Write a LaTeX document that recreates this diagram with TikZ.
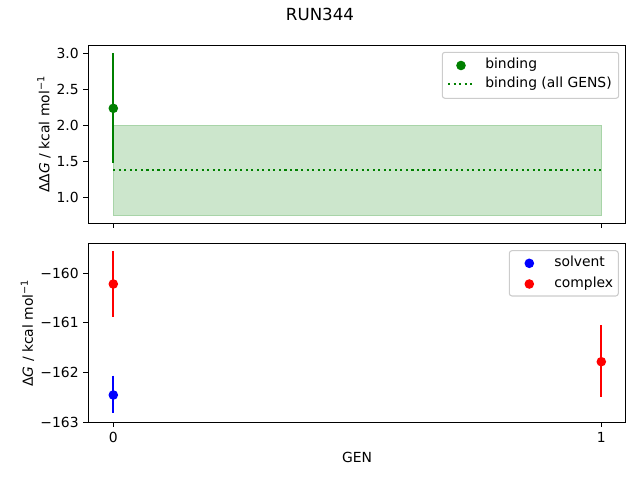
\documentclass[tikz,border=0pt]{standalone}
\usepackage{fontspec}
\setmainfont{DejaVu Sans}
\definecolor{mgreen}{HTML}{008000}
\definecolor{mfill}{HTML}{CCE6CC}
\definecolor{medge}{HTML}{A8D4A8}
\definecolor{mred}{HTML}{FF0000}
\definecolor{mblue}{HTML}{0000FF}
\definecolor{legedge}{HTML}{CCCCCC}
\tikzset{
  axbox/.style={draw=black, line width=0.833pt},
  tickline/.style={draw=black, line width=0.833pt},
  ticklab/.style={font=\fontsize{10.42pt}{12pt}\selectfont, inner sep=0pt, outer sep=0pt},
  errbar/.style={line width=1.5625pt},
  legbox/.style={draw=legedge, fill=white, fill opacity=0.8, line width=0.8pt, rounded corners=2pt},
  legtext/.style={font=\fontsize{10.42pt}{12pt}\selectfont, inner sep=0pt, anchor=base west},
  dotline/.style={mgreen, line width=1.5625pt, dash pattern=on 1.5625pt off 2.578pt},
  dot/.style={radius=3.6pt},
}
\begin{document}
\begin{tikzpicture}[x=0.75pt, y=-0.75pt]
\useasboundingbox (0,0) rectangle (640,480);
% title
\node[font=\fontsize{12.5pt}{14pt}\selectfont, inner sep=0pt, anchor=base] (title) at (320,20.7) {RUN344};
% ---------- top axes ----------
\fill[mfill] (113.3,125.3) rectangle (601.3,215.3);
\draw[medge, line width=1pt] (113.3,125.3) rectangle (601.3,215.3);
\draw[dotline] (113.3,170) -- (601.3,170);
\draw[errbar, mgreen] (113.3,53.3) -- (113.3,162.7);
\fill[mgreen] (113.3,108.3) circle[dot];
\draw[axbox] (88.3,45.3) rectangle (625.7,223.3);
% y ticks
\foreach \yy/\lab in {53.3/3.0, 89.4/2.5, 125.5/2.0, 161.6/1.5, 197.7/1.0}{
  \draw[tickline] (88.3,\yy) -- (83.4,\yy);
  \node[ticklab, anchor=east] at (78.6,\yy) {\lab};
}
% x ticks (no labels)
\foreach \xx in {113.3, 601.3}{
  \draw[tickline] (\xx,223.3) -- (\xx,228.2);
}
\node[ticklab, rotate=90, anchor=base] (ylabtop) at (49.3,134.3) {ΔΔ\textit{G} / kcal mol\textsuperscript{−1}};
% legend top
\draw[legbox] (442.3,52.3) rectangle (618.7,98.3);
\fill[mgreen] (461,65.5) circle[dot];
\node[legtext] (lb1) at (485,68.8) {binding};
\draw[dotline] (448,84.3) -- (475,84.3);
\node[legtext] (lb2) at (485,87.6) {binding (all GENS)};
% ---------- bottom axes ----------
\draw[errbar, mred] (113.3,251) -- (113.3,316.7);
\fill[mred] (113.3,284) circle[dot];
\draw[errbar, mblue] (113.3,375.7) -- (113.3,413.3);
\fill[mblue] (113.3,395) circle[dot];
\draw[errbar, mred] (601.3,325) -- (601.3,396.7);
\fill[mred] (601.3,361.7) circle[dot];
\draw[axbox] (88.3,243.7) rectangle (625.7,422.3);
\foreach \yy/\lab in {273.3/−160, 322.8/−161, 372.5/−162, 422.3/−163}{
  \draw[tickline] (88.3,\yy) -- (83.4,\yy);
  \node[ticklab, anchor=east] at (78.6,\yy) {\lab};
}
\foreach \xx/\lab in {113.3/0, 601.3/1}{
  \draw[tickline] (\xx,422.3) -- (\xx,427.2);
  \node[ticklab, anchor=north] at (\xx,432.3) {\lab};
}
\node[ticklab, anchor=base] (xlab) at (357,462) {GEN};
\node[ticklab, rotate=90, anchor=base] (ylabbot) at (32.8,333) {Δ\textit{G} / kcal mol\textsuperscript{−1}};
% legend bottom
\draw[legbox] (509.3,250.7) rectangle (618.3,296);
\fill[mblue] (529.3,263.3) circle[dot];
\node[legtext] (ls1) at (554,266.6) {solvent};
\fill[mred] (529.3,284) circle[dot];
\node[legtext] (ls2) at (554,287.3) {complex};
\end{tikzpicture}
\end{document}
